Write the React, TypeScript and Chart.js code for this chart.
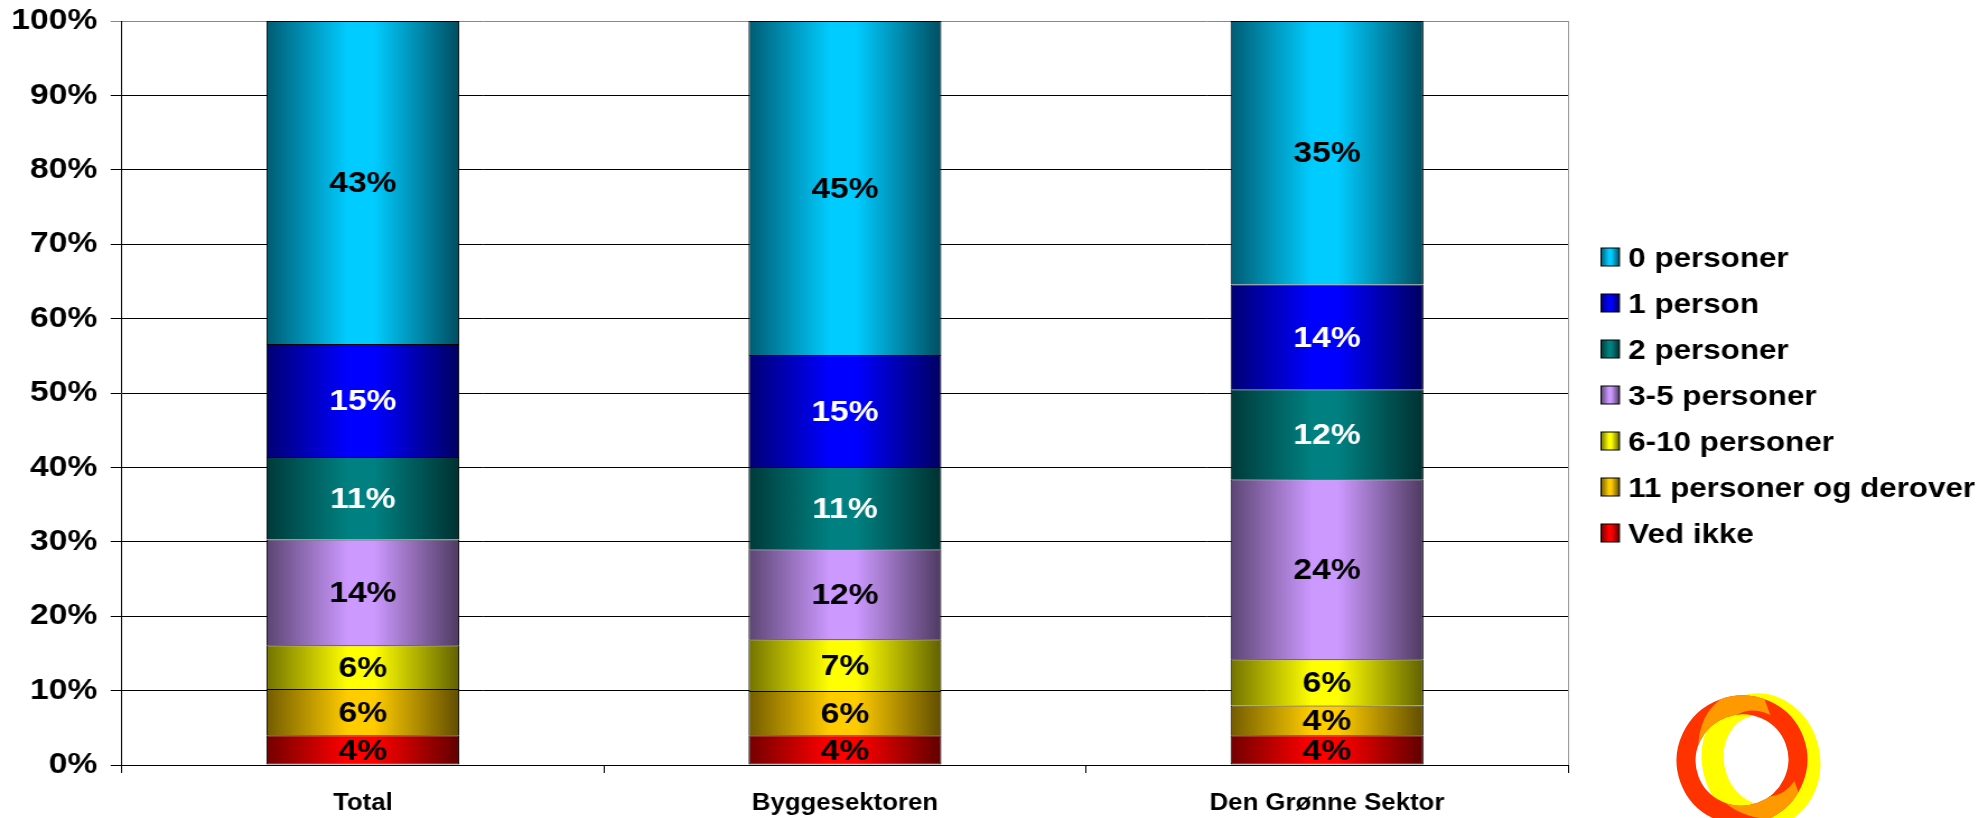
import React, { useEffect, useRef } from 'react';
import { Chart, registerables } from 'chart.js';

Chart.register(...registerables);

// ---------- data ----------
const categories = ['Total', 'Byggesektoren', 'Den Grønne Sektor'];
// stacked bottom -> top
const seriesNames = [
  'Ved ikke',
  '11 personer og derover',
  '6-10 personer',
  '3-5 personer',
  '2 personer',
  '1 person',
  '0 personer',
];
const vedIkke = [4.0, 4.0, 4.0];
const elleveOgDerover = [6.2, 5.95, 4.0];
const seksTilTi = [5.9, 6.95, 6.2];
const treTilFem = [14.2, 12.1, 24.2];
const toPersoner = [11.1, 11.05, 12.1];
const enPerson = [15.2, 15.05, 14.1];
const nulPersoner = [43.4, 44.9, 35.4];
const seriesValues = [vedIkke, elleveOgDerover, seksTilTi, treTilFem, toPersoner, enPerson, nulPersoner];
const yTickStep = 10;

// ---------- styles ----------
const seriesColors = ['#FF0000', '#FFCC00', '#FFFF00', '#CC99FF', '#008080', '#0000FF', '#00CCFF'];
const labelColors = ['#000000', '#000000', '#000000', '#000000', '#FFFFFF', '#FFFFFF', '#000000'];
const FONT = '"Liberation Sans", Arial, Helvetica, sans-serif';
const STRETCH = 1.12;
const CANVAS_W = 1768;
const CANVAS_H = 818;
const BAR_PCT = 0.4;

function shade(hex: string, f: number): string {
  const n = parseInt(hex.slice(1), 16);
  const r = Math.round(((n >> 16) & 255) * f);
  const g = Math.round(((n >> 8) & 255) * f);
  const b = Math.round((n & 255) * f);
  return `rgb(${r},${g},${b})`;
}

function makeGrad(ctx: CanvasRenderingContext2D, x0: number, x1: number, base: string) {
  const g = ctx.createLinearGradient(x0, 0, x1, 0);
  g.addColorStop(0, shade(base, 0.45));
  g.addColorStop(0.42, base);
  g.addColorStop(0.56, base);
  g.addColorStop(1, shade(base, 0.38));
  return g;
}

const segLabels = {
  id: 'segLabels',
  afterDatasetsDraw(chart: any) {
    const ctx = chart.ctx as CanvasRenderingContext2D;
    ctx.save();
    ctx.font = `bold 30px ${FONT}`;
    ctx.textAlign = 'center';
    ctx.textBaseline = 'middle';
    chart.data.datasets.forEach((ds: any, i: number) => {
      const meta = chart.getDatasetMeta(i);
      meta.data.forEach((bar: any, j: number) => {
        const v = ds.data[j] as number;
        const { x, y, base } = bar.getProps(['x', 'y', 'base'], true);
        ctx.fillStyle = labelColors[i];
        ctx.fillText(`${Math.round(v)}%`, x, (y + base) / 2 + 1.5);
      });
    });
    ctx.restore();
  },
};

const rightBorder = {
  id: 'rightBorder',
  beforeDatasetsDraw(chart: any) {
    const { ctx, chartArea } = chart;
    ctx.save();
    ctx.strokeStyle = '#999999';
    ctx.lineWidth = 1;
    const x = Math.round(chartArea.right) + 0.5;
    ctx.beginPath();
    ctx.moveTo(x, chartArea.top);
    ctx.lineTo(x, chartArea.bottom);
    ctx.stroke();
    ctx.restore();
  },
};

const sideLegend = {
  id: 'sideLegend',
  afterDraw(chart: any) {
    const { ctx, chartArea } = chart;
    const n = chart.data.datasets.length;
    const rowH = 46;
    const midY = (chartArea.top + chartArea.bottom) / 2 + 2;
    const startY = midY - ((n - 1) / 2) * rowH;
    const boxX = chartArea.right + 29.5;
    const boxW = 16.4;
    const boxH = 18;
    ctx.save();
    ctx.font = `bold 28px ${FONT}`;
    ctx.textAlign = 'left';
    ctx.textBaseline = 'middle';
    for (let k = n - 1; k >= 0; k--) {
      const r = n - 1 - k;
      const cy = startY + r * rowH;
      const ds = chart.data.datasets[k];
      ctx.fillStyle = makeGrad(ctx, boxX, boxX + boxW, seriesColors[k]);
      ctx.fillRect(boxX, cy - boxH / 2, boxW, boxH);
      ctx.strokeStyle = '#000';
      ctx.lineWidth = 1;
      ctx.strokeRect(boxX, cy - boxH / 2, boxW, boxH);
      ctx.fillStyle = '#000';
      ctx.fillText(ds.label, boxX + 24.3, cy + 2);
    }
    ctx.restore();
  },
};

export default function App() {
  const canvasRef = useRef<HTMLCanvasElement | null>(null);

  useEffect(() => {
    const canvas = canvasRef.current;
    if (!canvas) return;
    const datasets = seriesNames.map((name, i) => ({
      label: name,
      data: seriesValues[i],
      backgroundColor: (c: any) => {
        const base = seriesColors[i];
        const chart = c.chart;
        const area = chart.chartArea;
        if (!area || c.type !== 'data' || !chart.scales.x) return base;
        const cx = chart.scales.x.getPixelForValue(c.dataIndex);
        const w = ((area.right - area.left) / categories.length) * BAR_PCT;
        return makeGrad(chart.ctx, cx - w / 2, cx + w / 2, base);
      },
      borderColor: '#000000',
      borderWidth: { top: 1, left: 1, right: 1, bottom: i === 0 ? 1 : 0 },
      borderSkipped: false,
      barPercentage: BAR_PCT,
      categoryPercentage: 1,
    }));

    const chart = new Chart(canvas, {
      type: 'bar',
      data: { labels: categories, datasets },
      options: {
        responsive: false,
        animation: false,
        events: [],
        layout: { padding: { left: 10, right: 368, top: 21, bottom: 1 } },
        plugins: {
          legend: { display: false },
          tooltip: { enabled: false },
        },
        scales: {
          x: {
            stacked: true,
            afterFit: (s: any) => {
              s.height = 52;
              s.paddingLeft = 0;
              s.paddingRight = 0;
            },
            grid: {
              offset: true,
              drawOnChartArea: false,
              drawTicks: true,
              tickLength: 8,
              color: '#000000',
              tickColor: '#000000',
            },
            border: { display: true, color: '#000000', width: 1 },
            ticks: {
              color: '#000000',
              font: { family: FONT, size: 23, weight: 'bold' },
              padding: 17,
              maxRotation: 0,
              autoSkip: false,
            },
          },
          y: {
            stacked: true,
            min: 0,
            max: 100,
            afterFit: (s: any) => {
              s.width = 98.8;
              s.paddingTop = 0;
              s.paddingBottom = 0;
            },
            grid: {
              color: (c: any) => (c.tick && c.tick.value === 100 ? '#888888' : '#000000'),
              tickColor: (c: any) => (c.tick && c.tick.value === 100 ? '#888888' : '#000000'),
              tickLength: 10,
              drawTicks: true,
            },
            border: { display: true, color: '#000000', width: 1 },
            ticks: {
              stepSize: yTickStep,
              color: '#000000',
              font: { family: FONT, size: 30, weight: 'bold' },
              padding: 12,
              callback: (v: any) => `${v}%`,
            },
          },
        },
      },
      plugins: [rightBorder, segLabels, sideLegend],
    });
    return () => chart.destroy();
  }, []);

  return (
    <div style={{ position: 'fixed', left: 0, top: 0, width: 1980, height: 818, overflow: 'hidden', background: '#fff' }}>
      <div
        style={{
          position: 'absolute',
          left: 0,
          top: 0,
          width: CANVAS_W,
          height: CANVAS_H,
          transform: `scaleX(${STRETCH})`,
          transformOrigin: '0 0',
        }}
      >
        <canvas ref={canvasRef} width={CANVAS_W} height={CANVAS_H} style={{ display: 'block' }} />
      </div>
      <svg
        width={180}
        height={138}
        viewBox="0 0 180 138"
        style={{ position: 'absolute', left: 1660, top: 680 }}
      >
        <defs>
          <mask id="ovl">
            <rect x="0" y="0" width="180" height="138" fill="black" />
            <ellipse cx="101" cy="80" rx="48" ry="56" transform="rotate(-12 101 80)" fill="none" stroke="white" strokeWidth="22" />
            <rect x="124" y="0" width="60" height="138" fill="black" />
          </mask>
        </defs>
        <ellipse cx="101" cy="80" rx="48" ry="56" transform="rotate(-12 101 80)" fill="none" stroke="#FFFF00" strokeWidth="22" />
        <ellipse cx="82" cy="80" rx="56" ry="55" transform="rotate(-20 82 80)" fill="none" stroke="#FF3300" strokeWidth="19" />
        <ellipse cx="82" cy="80" rx="56" ry="55" transform="rotate(-20 82 80)" fill="none" stroke="#FF9900" strokeWidth="19" mask="url(#ovl)" />
      </svg>
    </div>
  );
}
